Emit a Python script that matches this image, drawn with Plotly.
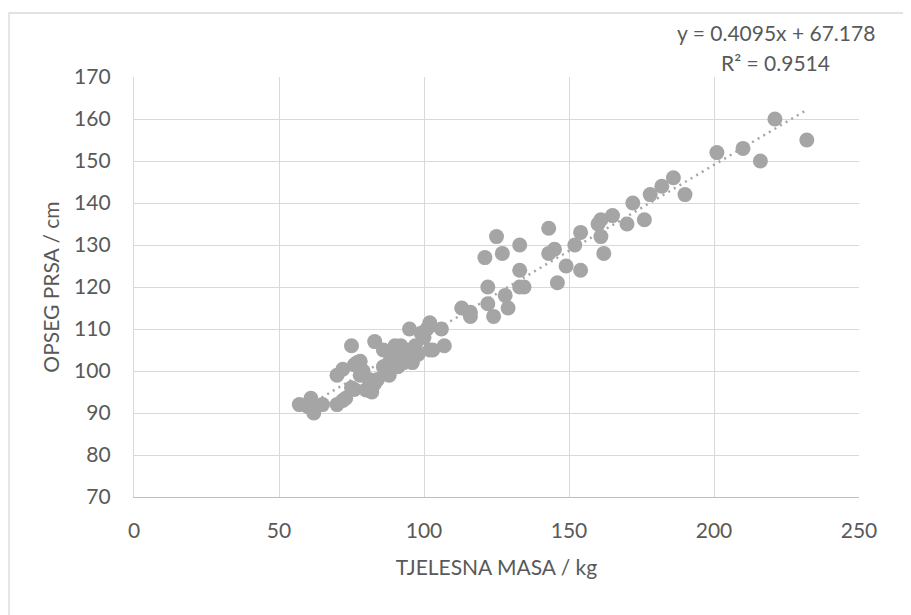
import plotly.graph_objects as go

# Data
body_mass_kg = [57, 60, 61, 62, 65, 70, 70, 72, 72, 73, 75, 75, 76, 76, 77, 78, 78, 79, 80, 81,
                82, 83, 83, 84, 86, 86, 88, 88, 89, 90, 90, 91, 92, 92, 93, 94, 95, 95, 96, 97,
                97, 98, 99, 100, 101, 102, 102, 103, 106, 107, 113, 116, 116, 121, 122, 122, 124, 125, 127, 128,
                129, 133, 133, 133, 134.5, 143, 143, 145, 146, 149, 152, 154, 154, 160, 161, 161, 162, 165, 170, 172,
                176, 178, 182, 186, 190, 201, 210, 216, 221, 232]
chest_cm = [92, 91.5, 93.5, 90, 92, 99, 92, 100.4, 93, 93.5, 106, 96, 95.6, 101.5, 102, 102.3, 99, 100, 95.5, 98,
            95, 107, 97, 98, 101, 105, 102, 99, 103, 106, 104, 101, 106, 103, 102, 103.5, 110, 105, 102, 104.7,
            106, 104, 109, 108, 110, 111.5, 105, 105, 110, 106, 115, 114, 113, 127, 120, 116, 113, 132, 128, 118,
            115, 130, 124, 120, 120, 134, 128, 129, 121, 125, 130, 124, 133, 135, 136, 132, 128, 137, 135, 140,
            136, 142, 144, 146, 142, 152, 153, 150, 160, 155]

slope = 0.4095
intercept = 67.178
eq_text = "y = 0.4095x + 67.178"
r2_text = "R² = 0.9514"
x_ticks = [0, 50, 100, 150, 200, 250]
y_ticks = [70, 80, 90, 100, 110, 120, 130, 140, 150, 160, 170]

FONT = "Lato"
FS = 21
TXT = "#595959"
GRID = "#d9d9d9"
GRAY = "#a5a5a5"

fig = go.Figure()
fig.add_trace(go.Scatter(
    x=body_mass_kg, y=chest_cm, mode="markers",
    marker=dict(size=15, color=GRAY, line=dict(width=0)),
    hoverinfo="x+y", showlegend=False))

x_line = [min(body_mass_kg), max(body_mass_kg)]
y_line = [slope * v + intercept for v in x_line]
fig.add_trace(go.Scatter(
    x=x_line, y=y_line, mode="lines",
    line=dict(color=GRAY, width=2.5, dash="2px,4.5px"),
    hoverinfo="skip", showlegend=False))

fig.update_layout(
    width=911, height=615,
    margin=dict(l=126, r=60, t=69, b=126),
    paper_bgcolor="white", plot_bgcolor="white",
    font=dict(family=FONT, size=FS, color=TXT),
    xaxis=dict(range=[0, 250], tickvals=x_ticks, showgrid=True, gridcolor=GRID, gridwidth=1.3,
               zeroline=False, showline=True, linecolor="#bfbfbf", linewidth=1.3,
               ticks="", ticklabelstandoff=15, tickfont=dict(size=FS, color=TXT),
               title=dict(text="TJELESNA MASA / kg", font=dict(size=FS, color=TXT), standoff=18),
               automargin=False, fixedrange=True),
    yaxis=dict(range=[70, 170], tickvals=y_ticks, showgrid=True, gridcolor=GRID, gridwidth=1.3,
               zeroline=False, showline=True, linecolor=GRID, linewidth=1.3, mirror=False,
               ticks="", ticklabelstandoff=18, tickfont=dict(size=FS, color=TXT),
               title=dict(text="OPSEG PRSA / cm", font=dict(size=FS, color=TXT), standoff=8),
               automargin=False, fixedrange=True),
    annotations=[
        dict(text=eq_text, xref="paper", yref="paper", x=0.8855, y=1.1048,
             xanchor="center", yanchor="middle", showarrow=False,
             font=dict(family=FONT, size=FS, color=TXT)),
        dict(text=r2_text, xref="paper", yref="paper", x=0.8855, y=1.0357,
             xanchor="center", yanchor="middle", showarrow=False,
             font=dict(family=FONT, size=FS, color=TXT)),
    ],
    shapes=[dict(type="rect", xref="paper", yref="paper",
                 x0=-0.1724, x1=1.3, y0=-0.4, y1=1.1524,
                 line=dict(color=GRID, width=1.3), fillcolor="rgba(0,0,0,0)", layer="below")],
)

fig.write_html("out.html")
